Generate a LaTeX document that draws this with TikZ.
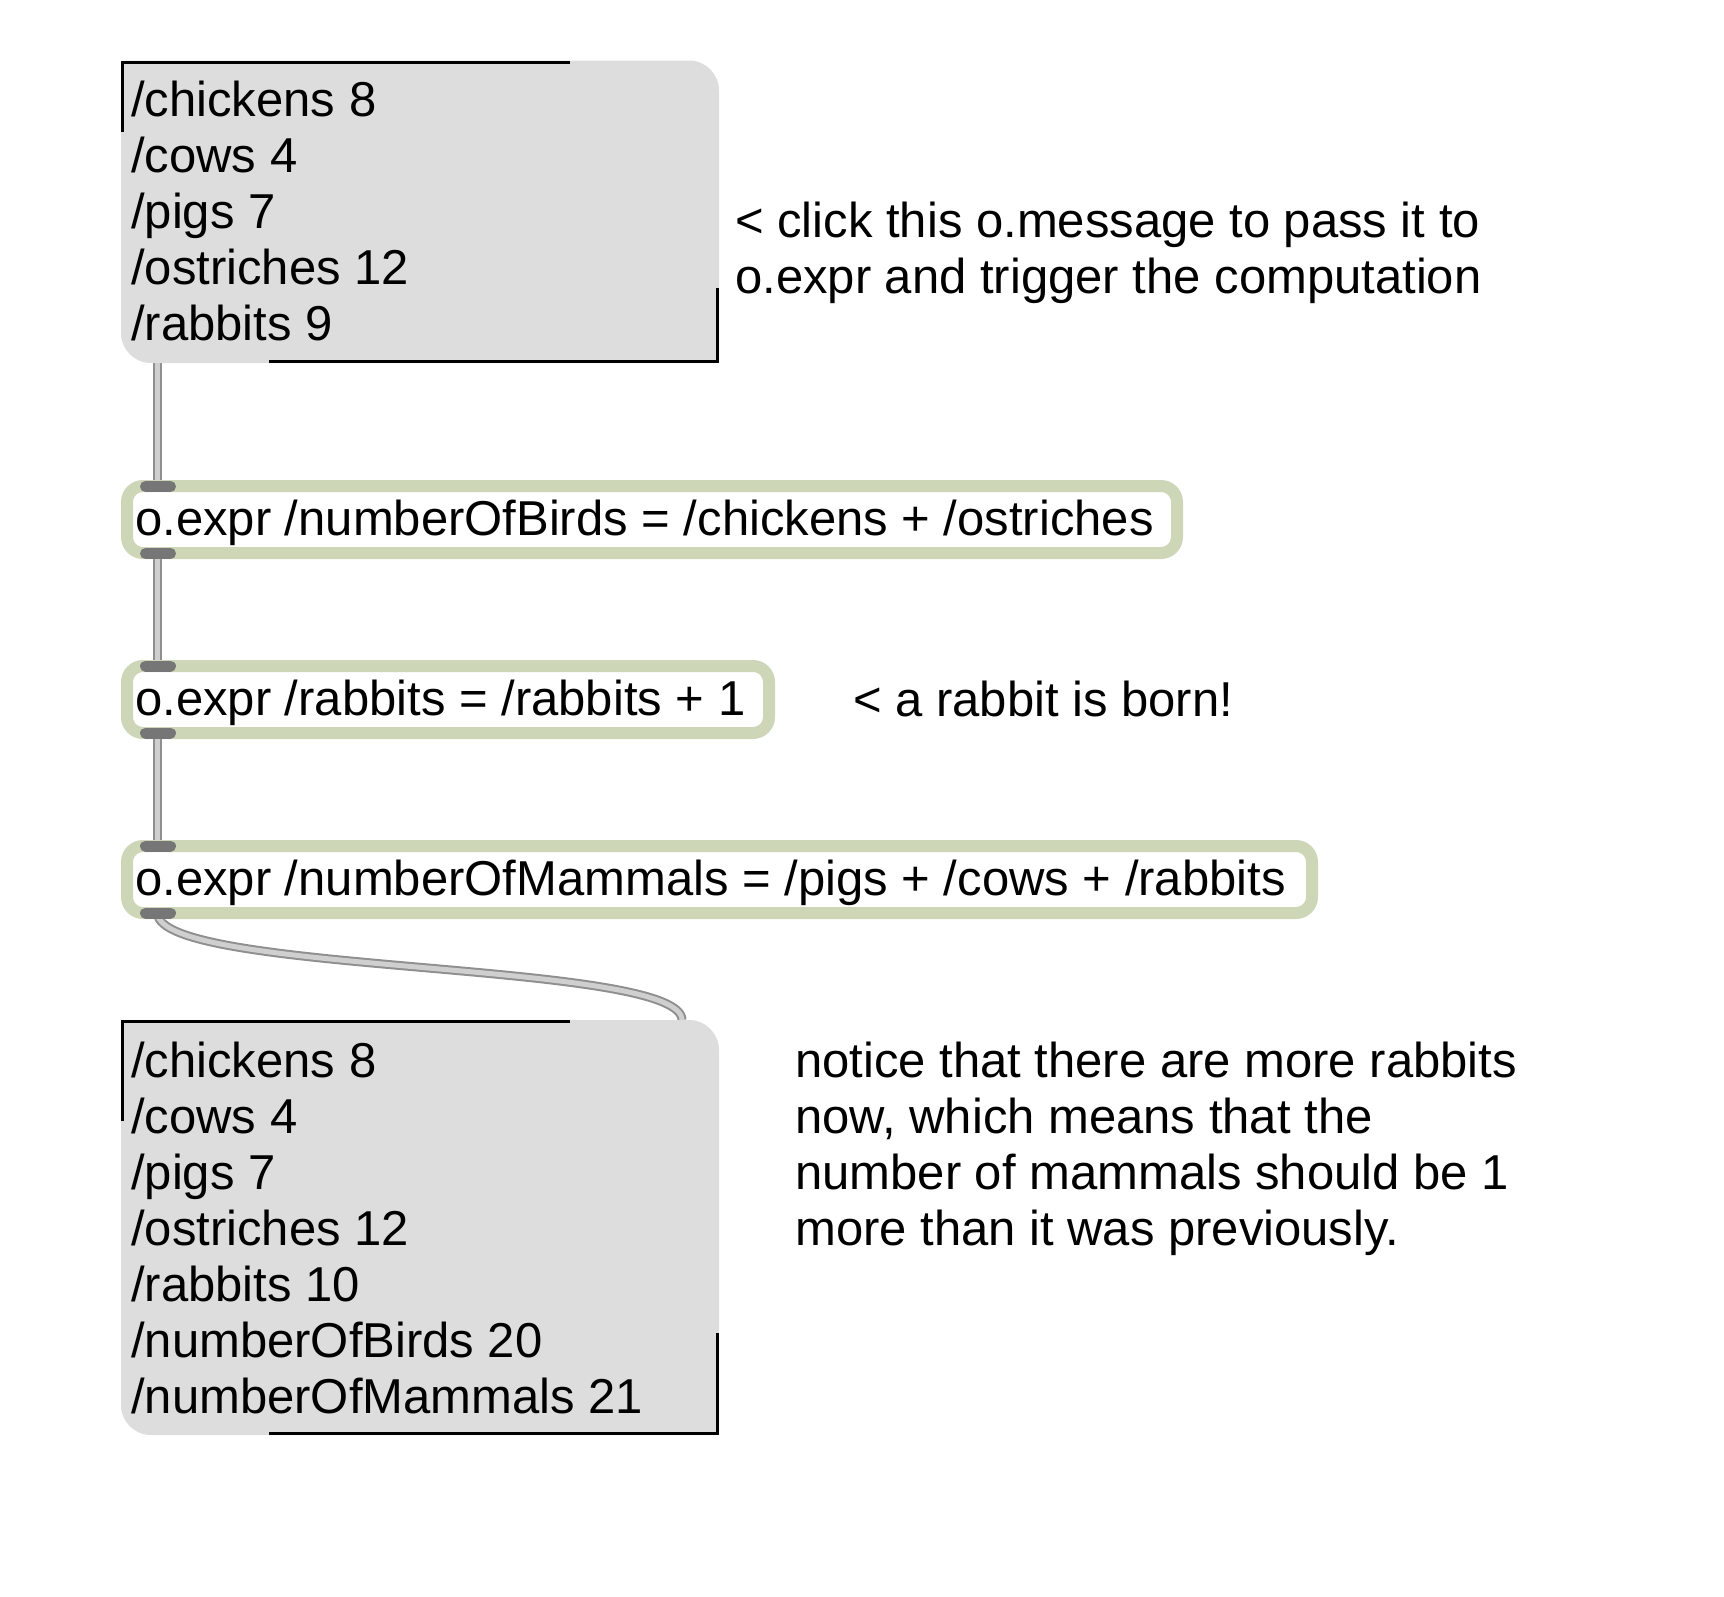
\documentclass[tikz,border=0pt]{standalone}
\usepackage{fontspec}
\setmainfont{Liberation Sans}
\definecolor{msgfill}{HTML}{DDDDDD}
\definecolor{exprframe}{HTML}{CDD6B7}
\definecolor{port}{HTML}{767676}
\definecolor{cordedge}{HTML}{8F8F8F}
\definecolor{cordcore}{HTML}{CFCFCF}
\tikzset{
  patchfont/.style={font=\fontsize{49}{56}\selectfont},
  linetext/.style={patchfont, anchor=base west, inner sep=0pt},
  blocktext/.style={patchfont, anchor=north west, inner sep=0pt, align=left},
  exprbox/.style={draw=exprframe, line width=12pt, fill=white, rounded corners=16pt,
                  anchor=north west, inner sep=0pt, outer sep=0pt, minimum height=67pt},
  portbar/.style={draw=port, line width=11pt, line cap=round},
  cord/.style={draw=cordedge, line width=2pt, double=cordcore, double distance=5pt},
  msgedge/.style={draw=black, line width=3.3pt, line join=miter},
}
% first-line strut so every block's first baseline sits 45pt below its top
\newcommand{\firstline}{\rule{0pt}{45pt}}
\begin{document}
\begin{tikzpicture}[x=1pt, y=-1pt]
\useasboundingbox (0,0) rectangle (1724,1596);

% ports of the objects
\coordinate (msgIn-out)   at (157.5,363);
\coordinate (birds-in)    at (157.5,486.5);
\coordinate (birds-out)   at (157.5,553.5);
\coordinate (rabbits-in)  at (157.5,666);
\coordinate (rabbits-out) at (157.5,733);
\coordinate (mammals-in)  at (157.5,846);
\coordinate (mammals-out) at (157.5,913);
\coordinate (msgOut-in)   at (682,1020);

% patch cords
\draw[cord] (msgIn-out) -- (birds-in);
\draw[cord] (birds-out) -- (rabbits-in);
\draw[cord] (rabbits-out) -- (mammals-in);
\draw[cord] (mammals-out) .. controls (157.5,975) and (682,960) .. (msgOut-in);

% o.expr frames (border centred 6pt inside the outer edge)
\node[exprbox, minimum width=1050pt] (birds)   at (127,486) {};
\node[exprbox, minimum width=642pt]  (rabbits) at (127,666) {};
\node[exprbox, minimum width=1185pt] (mammals) at (127,846) {};

% inlets and outlets
\foreach \p in {birds-in, birds-out, rabbits-in, rabbits-out, mammals-in, mammals-out}
  \draw[portbar] ([xshift=-12pt]\p) -- ([xshift=13pt]\p);

% o.message boxes
\fill[msgfill] (121,60.5) -- (689,60.5) .. controls (705.6,60.5) and (719,73.9) .. (719,90.5)
  -- (719,363) -- (151,363) .. controls (134.4,363) and (121,349.6) .. (121,333) -- cycle;
\draw[msgedge] (570,62.15) -- (122.65,62.15) -- (122.65,132);
\draw[msgedge] (269,361.35) -- (717.35,361.35) -- (717.35,288);

\fill[msgfill] (121,1020) -- (689,1020) .. controls (705.6,1020) and (719,1033.4) .. (719,1050)
  -- (719,1435) -- (151,1435) .. controls (134.4,1435) and (121,1421.6) .. (121,1405) -- cycle;
\draw[msgedge] (570,1021.65) -- (122.65,1021.65) -- (122.65,1121);
\draw[msgedge] (269,1433.35) -- (717.35,1433.35) -- (717.35,1333);

% contents
\node[blocktext] (msgIn) at (131,71) {\firstline/chickens 8\\/cows 4\\/pigs 7\\/ostriches 12\\/rabbits 9};
\node[blocktext] (msgOut) at (131,1032) {\firstline/chickens 8\\/cows 4\\/pigs 7\\/ostriches 12\\/rabbits 10\\/numberOfBirds 20\\/numberOfMammals 21};

\node[linetext] (birds-text)   at (135,535) {o.expr /numberOfBirds = /chickens + /ostriches};
\node[linetext] (rabbits-text) at (135,715) {o.expr /rabbits = /rabbits + 1};
\node[linetext] (mammals-text) at (135,895) {o.expr /numberOfMammals = /pigs + /cows + /rabbits};

% comments
\node[blocktext] (note-click) at (735,192) {\firstline< click this o.message to pass it to\\o.expr and trigger the computation};
\node[linetext] (note-born) at (853,716) {< a rabbit is born!};
\node[blocktext] (note-more) at (795,1032) {\firstline notice that there are more rabbits\\now, which means that the\\number of mammals should be 1\\more than it was previously.};
\end{tikzpicture}
\end{document}
